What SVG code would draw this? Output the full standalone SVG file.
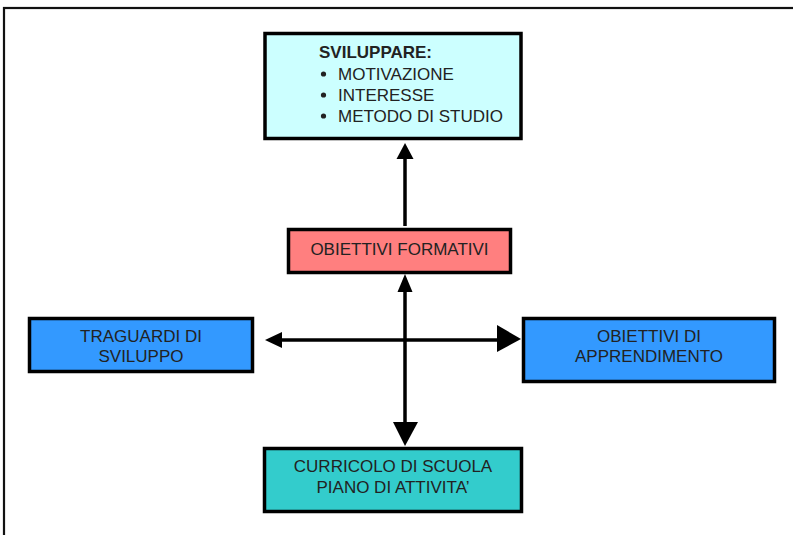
<svg xmlns="http://www.w3.org/2000/svg" width="793" height="535" viewBox="0 0 793 535">
<style>
.box{stroke:#000;stroke-width:3.5}
.t{font-family:"Liberation Sans",Arial,sans-serif;font-size:17px;fill:#222}
.c{text-anchor:middle}
.b{font-weight:bold}
.ln{stroke:#000;stroke-width:3.5;fill:none}
</style>
<rect width="793" height="535" fill="#fff"/>
<rect x="4" y="8" width="800" height="540" fill="none" stroke="#111" stroke-width="2.2"/>
<g id="connectors">
<line class="ln" x1="405" y1="226" x2="405" y2="155"/>
<polygon points="405,143 396.5,159 413.5,159" fill="#000"/>
<line class="ln" x1="405" y1="288" x2="405" y2="426"/>
<polygon points="405,274 397.5,292 412.5,292" fill="#000"/>
<polygon points="405,446 393,422 418,422" fill="#000"/>
<line class="ln" x1="278" y1="340" x2="500" y2="340"/>
<polygon points="265,340 282,332 282,348" fill="#000"/>
<polygon points="521,339 497,325 497,352" fill="#000"/>
</g>
<g id="sviluppare">
<rect class="box" x="265" y="33.5" width="256" height="105" fill="#CCFFFF"/>
<text class="t b" x="319" y="58">SVILUPPARE:</text>
<circle cx="323.5" cy="74" r="2.6" fill="#222"/>
<circle cx="323.5" cy="95" r="2.6" fill="#222"/>
<circle cx="323.5" cy="116" r="2.6" fill="#222"/>
<text class="t" x="338" y="80">MOTIVAZIONE</text>
<text class="t" x="338" y="101">INTERESSE</text>
<text class="t" x="338" y="122">METODO DI STUDIO</text>
</g>
<g id="obiettivi-formativi">
<rect class="box" x="288.5" y="229.5" width="222" height="43" fill="#FF7F7F"/>
<text class="t c" x="399.5" y="255">OBIETTIVI FORMATIVI</text>
</g>
<g id="traguardi">
<rect class="box" x="29.5" y="318.5" width="223" height="53" fill="#3399FF"/>
<text class="t c" x="141" y="342">TRAGUARDI DI</text>
<text class="t c" x="141" y="362">SVILUPPO</text>
</g>
<g id="obiettivi-apprendimento">
<rect class="box" x="523.5" y="318.5" width="251" height="63" fill="#3399FF"/>
<text class="t c" x="649" y="342">OBIETTIVI DI</text>
<text class="t c" x="649" y="362">APPRENDIMENTO</text>
</g>
<g id="curricolo">
<rect class="box" x="264.5" y="448.5" width="257" height="63" fill="#33CCCC"/>
<text class="t c" x="393" y="472">CURRICOLO DI SCUOLA</text>
<text class="t c" x="393" y="493">PIANO DI ATTIVITA’</text>
</g>
</svg>
